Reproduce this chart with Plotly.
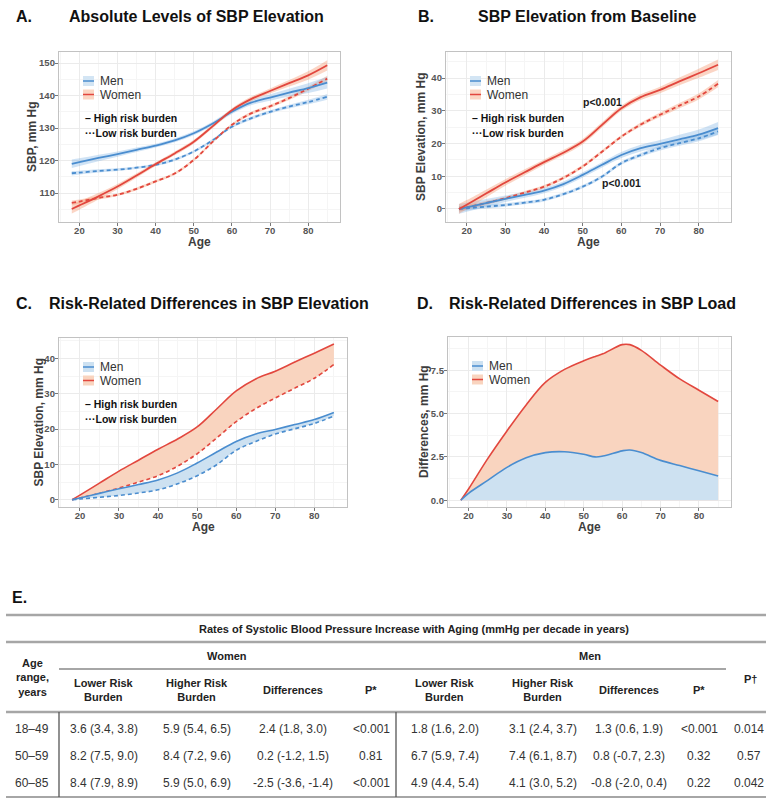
import plotly.graph_objects as go

W, H = 766, 798

# ---------------- data ----------------
ages = [18, 20, 25, 30, 35, 40, 45, 50, 55, 60, 65, 70, 75, 80, 85]

# Panel A: absolute SBP (mm Hg)
men_high_abs = [119.0, 119.5, 120.8, 122.0, 123.3, 124.6, 126.2, 128.4, 131.4, 135.0, 137.8, 139.4, 140.9, 142.3, 144.0]
men_low_abs = [116.1, 116.3, 116.8, 117.2, 117.8, 118.7, 120.3, 122.8, 126.3, 130.4, 133.0, 135.0, 136.6, 138.0, 139.6]
women_high_abs = [105.1, 106.2, 109.0, 112.0, 115.4, 118.9, 122.2, 125.8, 130.6, 135.5, 138.9, 141.4, 143.8, 146.2, 149.3]
women_low_abs = [107.0, 107.4, 108.5, 109.5, 111.3, 113.6, 116.0, 120.2, 125.8, 131.0, 134.5, 136.7, 139.2, 142.1, 145.2]
men_high_abs_ci = [1.3, 1.2, 1.0, 0.8, 0.7, 0.6, 0.6, 0.6, 0.6, 0.7, 0.8, 1.0, 1.2, 1.5, 1.8]
men_low_abs_ci = [0.7, 0.6, 0.5, 0.4, 0.4, 0.4, 0.4, 0.4, 0.4, 0.4, 0.5, 0.5, 0.6, 0.7, 0.9]
women_high_abs_ci = [1.4, 1.3, 1.0, 0.8, 0.7, 0.6, 0.6, 0.6, 0.6, 0.6, 0.7, 0.8, 1.0, 1.3, 1.6]
women_low_abs_ci = [0.7, 0.6, 0.5, 0.4, 0.4, 0.4, 0.4, 0.4, 0.4, 0.4, 0.5, 0.5, 0.6, 0.7, 0.9]

# Panels B & C: SBP elevation from baseline (mm Hg)
men_high_el = [0.0, 0.5, 1.8, 3.1, 4.3, 5.6, 7.6, 10.4, 13.5, 16.5, 18.6, 19.9, 21.3, 22.7, 24.7]
men_low_el = [0.0, 0.2, 0.7, 1.2, 1.9, 2.8, 4.5, 6.8, 9.9, 14.0, 16.5, 18.6, 20.1, 21.6, 23.7]
women_high_el = [0.0, 1.3, 4.7, 8.1, 11.2, 14.3, 17.2, 20.6, 25.7, 30.8, 34.2, 36.4, 39.0, 41.5, 44.1]
women_low_el = [0.0, 0.5, 1.8, 3.3, 5.0, 6.8, 9.5, 13.0, 17.5, 22.1, 25.8, 28.8, 31.6, 34.4, 38.3]
men_high_el_ci = [1.5, 1.4, 1.2, 1.0, 0.9, 0.8, 0.8, 0.8, 0.8, 0.9, 1.0, 1.2, 1.4, 1.6, 1.9]
men_low_el_ci = [0.8, 0.7, 0.6, 0.5, 0.5, 0.5, 0.5, 0.5, 0.5, 0.5, 0.6, 0.7, 0.8, 0.9, 1.1]
women_high_el_ci = [1.5, 1.4, 1.2, 1.0, 0.9, 0.8, 0.8, 0.8, 0.8, 0.8, 0.9, 1.0, 1.2, 1.4, 1.6]
women_low_el_ci = [0.8, 0.7, 0.6, 0.5, 0.5, 0.5, 0.5, 0.5, 0.5, 0.5, 0.6, 0.7, 0.8, 0.9, 1.1]
p_labels_b = ["p<0.001", "p<0.001"]
p_ages_b = [55, 60]
p_vals_b = [32.8, 7.9]

# Panel D: risk-related differences in SBP load
ages_d = [18, 20, 25, 30, 35, 40, 45, 50, 53, 55, 60, 62, 65, 70, 75, 80, 85]
men_load = [0.0, 0.4, 1.15, 1.9, 2.45, 2.75, 2.8, 2.65, 2.5, 2.55, 2.85, 2.9, 2.75, 2.3, 2.0, 1.7, 1.4]
women_load = [0.0, 0.65, 2.4, 4.0, 5.5, 6.8, 7.55, 8.05, 8.3, 8.45, 8.98, 8.98, 8.65, 7.8, 7.0, 6.35, 5.7]

# Panel E: table
table_title = "Rates of Systolic Blood Pressure Increase with Aging (mmHg per decade in years)"
groups = ["Women", "Men"]
col_headers = ["Lower Risk<br>Burden", "Higher Risk<br>Burden", "Differences", "P*",
               "Lower Risk<br>Burden", "Higher Risk<br>Burden", "Differences", "P*"]
age_ranges = ["18–49", "50–59", "60–85"]
women_lower = ["3.6 (3.4, 3.8)", "8.2 (7.5, 9.0)", "8.4 (7.9, 8.9)"]
women_higher = ["5.9 (5.4, 6.5)", "8.4 (7.2, 9.6)", "5.9 (5.0, 6.9)"]
women_diff = ["2.4 (1.8, 3.0)", "0.2 (-1.2, 1.5)", "-2.5 (-3.6, -1.4)"]
women_p = ["<0.001", "0.81", "<0.001"]
men_lower = ["1.8 (1.6, 2.0)", "6.7 (5.9, 7.4)", "4.9 (4.4, 5.4)"]
men_higher = ["3.1 (2.4, 3.7)", "7.4 (6.1, 8.7)", "4.1 (3.0, 5.2)"]
men_diff = ["1.3 (0.6, 1.9)", "0.8 (-0.7, 2.3)", "-0.8 (-2.0, 0.4)"]
men_p = ["<0.001", "0.32", "0.22"]
p_dagger = ["0.014", "0.57", "0.042"]

# ---------------- styling ----------------
BLUE = "#4a8dcf"
RED = "#e2473e"
BLUE_BAND = "rgba(120,175,225,0.35)"
RED_BAND = "rgba(245,150,110,0.40)"
BLUE_FILL = "#cde1f1"
RED_FILL = "#f9d4bf"
FONT = "Liberation Sans, Arial, sans-serif"
DASH = "4px,3px"


def px(x):
    return x / W


def py(y):
    return 1 - y / H


fig = go.Figure()

panels = {
    "A": dict(box=(59, 52, 340, 222), yr=[101.1, 153.4], dt=10, mdt=5, fmt=None),
    "B": dict(box=(446, 52, 731, 222), yr=[-4.0, 48.0], dt=10, mdt=5, fmt=None),
    "C": dict(box=(59, 338, 347, 507), yr=[-2.06, 45.8], dt=10, mdt=5, fmt=None),
    "D": dict(box=(448, 337, 731, 507), yr=[-0.39, 9.42], dt=2.5, mdt=1.25, fmt=".1f"),
}

TICKFONT = dict(family=FONT, size=9.5, color="#555555", weight="bold")
layout_axes = {}
for i, (k, p) in enumerate(panels.items()):
    x0, y0, x1, y1 = p["box"]
    sfx = "" if i == 0 else str(i + 1)
    common = dict(showgrid=True, gridcolor="#ebebeb", gridwidth=1, zeroline=False,
                  showline=True, mirror=True, linecolor="#c2c2c2", linewidth=1.3,
                  ticks="outside", ticklen=3, tickcolor="#777777", tickfont=TICKFONT)
    layout_axes["xaxis" + sfx] = dict(
        domain=[px(x0), px(x1)], range=[14.65, 88.35], anchor="y" + sfx,
        tickmode="linear", tick0=0, dtick=10, ticklabelstandoff=-4,
        minor=dict(dtick=5, tick0=0, showgrid=True, gridcolor="#f5f5f5", gridwidth=1),
        **common,
    )
    layout_axes["yaxis" + sfx] = dict(
        domain=[py(y1), py(y0)], range=p["yr"], anchor="x" + sfx,
        tickmode="linear", tick0=0, dtick=p["dt"], ticklabelstandoff=-2,
        tickformat=p["fmt"] if p["fmt"] else None,
        minor=dict(dtick=p["mdt"], tick0=0, showgrid=True, gridcolor="#f5f5f5", gridwidth=1),
        **common,
    )


def band(xs, mid, hw, color, xa, ya):
    lo = [m - h for m, h in zip(mid, hw)]
    hi = [m + h for m, h in zip(mid, hw)]
    fig.add_trace(go.Scatter(x=xs, y=lo, mode="lines", line=dict(width=0, shape="spline"),
                             xaxis=xa, yaxis=ya, showlegend=False, hoverinfo="skip"))
    fig.add_trace(go.Scatter(x=xs, y=hi, mode="lines", line=dict(width=0, shape="spline"),
                             fill="tonexty", fillcolor=color,
                             xaxis=xa, yaxis=ya, showlegend=False, hoverinfo="skip"))


def line(xs, ys, color, dash, xa, ya, width=1.8):
    fig.add_trace(go.Scatter(x=xs, y=ys, mode="lines",
                             line=dict(color=color, width=width, dash=dash, shape="spline"),
                             xaxis=xa, yaxis=ya, showlegend=False))


# Panel A
band(ages, men_low_abs, men_low_abs_ci, BLUE_BAND, "x", "y")
band(ages, women_low_abs, women_low_abs_ci, RED_BAND, "x", "y")
band(ages, men_high_abs, men_high_abs_ci, BLUE_BAND, "x", "y")
band(ages, women_high_abs, women_high_abs_ci, RED_BAND, "x", "y")
line(ages, men_low_abs, BLUE, DASH, "x", "y")
line(ages, women_low_abs, RED, DASH, "x", "y")
line(ages, men_high_abs, BLUE, "solid", "x", "y")
line(ages, women_high_abs, RED, "solid", "x", "y")

# Panel B
band(ages, men_low_el, men_low_el_ci, BLUE_BAND, "x2", "y2")
band(ages, women_low_el, women_low_el_ci, RED_BAND, "x2", "y2")
band(ages, men_high_el, men_high_el_ci, BLUE_BAND, "x2", "y2")
band(ages, women_high_el, women_high_el_ci, RED_BAND, "x2", "y2")
line(ages, men_low_el, BLUE, DASH, "x2", "y2")
line(ages, women_low_el, RED, DASH, "x2", "y2")
line(ages, men_high_el, BLUE, "solid", "x2", "y2")
line(ages, women_high_el, RED, "solid", "x2", "y2")

# Panel C (area between high and low burden curves)
for low, high, fillc, col in [(women_low_el, women_high_el, RED_FILL, RED),
                              (men_low_el, men_high_el, BLUE_FILL, BLUE)]:
    fig.add_trace(go.Scatter(x=ages, y=low, mode="lines",
                             line=dict(color=col, width=0, shape="spline"),
                             xaxis="x3", yaxis="y3", showlegend=False, hoverinfo="skip"))
    fig.add_trace(go.Scatter(x=ages, y=high, mode="lines",
                             line=dict(color=col, width=1.6, shape="spline"),
                             fill="tonexty", fillcolor=fillc,
                             xaxis="x3", yaxis="y3", showlegend=False))
    fig.add_trace(go.Scatter(x=ages, y=low, mode="lines",
                             line=dict(color=col, width=1.6, dash=DASH, shape="spline"),
                             xaxis="x3", yaxis="y3", showlegend=False))

# Panel D
fig.add_trace(go.Scatter(x=ages_d, y=women_load, mode="lines",
                         line=dict(color=RED, width=1.6, shape="spline"),
                         fill="tozeroy", fillcolor=RED_FILL,
                         xaxis="x4", yaxis="y4", showlegend=False))
fig.add_trace(go.Scatter(x=ages_d, y=men_load, mode="lines",
                         line=dict(color=BLUE, width=1.6, shape="spline"),
                         fill="tozeroy", fillcolor=BLUE_FILL,
                         xaxis="x4", yaxis="y4", showlegend=False))

annotations = []
shapes = []


def text(x, y, s, size=11, color="#222222", bold=False, xanchor="center", yanchor="middle",
         angle=0, family=FONT):
    annotations.append(dict(x=px(x), y=py(y), xref="paper", yref="paper", text=s,
                            showarrow=False, xanchor=xanchor, yanchor=yanchor, textangle=angle,
                            font=dict(family=family, size=size, color=color,
                                      weight="bold" if bold else "normal")))


# p-value labels in panel B
for a, v, s in zip(p_ages_b, p_vals_b, p_labels_b):
    annotations.append(dict(x=a, y=v, xref="x2", yref="y2", text=s, showarrow=False,
                            font=dict(family=FONT, size=10.5, color="#1a1a1a", weight="bold")))

# Titles
titles = [("A.", 14, 16, "Absolute Levels of SBP Elevation", 196),
          ("B.", 416, 16, "SBP Elevation from Baseline", 587),
          ("C.", 14, 303, "Risk-Related Differences in SBP Elevation", 209),
          ("D.", 415, 303, "Risk-Related Differences in SBP Load", 592)]
for lab, lx, ly, t, tx in titles:
    text(lx, ly, lab, size=16, color="#111111", bold=True, xanchor="left")
    text(tx, ly, t, size=16, color="#111111", bold=True)

# Axis titles
ytitles = ["SBP, mm Hg", "SBP Elevation, mm Hg", "SBP Elevation, mm Hg", "Differences, mm Hg"]
ytx = [32, 421, 38, 424]
for (k, p), yt, yx in zip(panels.items(), ytitles, ytx):
    x0, y0, x1, y1 = p["box"]
    text((x0 + x1) / 2, y1 + 20, "Age", size=12, color="#3d3d3d", bold=True)
    text(yx, (y0 + y1) / 2, yt, size=12, color="#3d3d3d", bold=True, angle=-90)

# Legends inside panels
leg_pos = [(83, 81, True, "band"), (470, 81, True, "band"), (83, 367, True, "fill"), (472, 366, False, "fill")]
for lx, ly, risk, kind in leg_pos:
    for j, (name, lc, fc) in enumerate([("Men", BLUE, BLUE_FILL if kind == "fill" else "#d3e5f4"),
                                          ("Women", RED, RED_FILL if kind == "fill" else "#fbd6c3")]):
        cy = ly + j * 13.5
        shapes.append(dict(type="rect", xref="paper", yref="paper",
                           x0=px(lx), x1=px(lx + 11), y0=py(cy + 5), y1=py(cy - 5),
                           fillcolor=fc, line=dict(width=0), layer="above"))
        shapes.append(dict(type="line", xref="paper", yref="paper",
                           x0=px(lx), x1=px(lx + 11), y0=py(cy), y1=py(cy),
                           line=dict(color=lc, width=1.5), layer="above"))
        text(lx + 15, cy, name, size=12, color="#333333", xanchor="left")
    if risk:
        text(lx, ly + 37, "– High risk burden", size=10.5, color="#111111", bold=True, xanchor="left")
        text(lx, ly + 52, "···Low risk burden", size=10.5, color="#111111", bold=True, xanchor="left")

# ---------------- Table (panel E) ----------------
text(10, 597, "E.", size=16, color="#111111", bold=True, xanchor="left")
LC = "#a6a6a6"


def hline(x0, x1, y, w=2):
    shapes.append(dict(type="line", xref="paper", yref="paper", x0=px(x0), x1=px(x1),
                       y0=py(y), y1=py(y), line=dict(color=LC, width=w)))


def vline(x, y0, y1, w=1.3):
    shapes.append(dict(type="line", xref="paper", yref="paper", x0=px(x), x1=px(x),
                       y0=py(y0), y1=py(y1), line=dict(color="#555555", width=w)))


hline(6, 766, 615, 2.5)
hline(6, 766, 642, 2.5)
hline(59, 726, 669, 2)
hline(6, 766, 712, 2.5)
hline(6, 766, 797, 2)
vline(59, 712, 797)
vline(396, 712, 797)

HF = "Liberation Sans, Arial, sans-serif"
text(414, 629, table_title, size=11, color="#222222", bold=True, family=HF)
text(227, 656, groups[0], size=11, color="#222222", bold=True, family=HF)
text(590, 656, groups[1], size=11, color="#222222", bold=True, family=HF)
text(32, 677, "Age<br>range,<br>years", size=11, color="#222222", bold=True, family=HF)
text(750, 679, "P†", size=11, color="#222222", bold=True, family=HF)

col_x = [104, 197, 293, 371, 445, 543, 629, 699]
for cx, h in zip(col_x, col_headers):
    text(cx, 690, h, size=11, color="#222222", bold=True, family=HF)

BF = "Liberation Sans Narrow, Arial Narrow, Liberation Sans, Arial, sans-serif"
columns = [age_ranges, women_lower, women_higher, women_diff, women_p,
           men_lower, men_higher, men_diff, men_p, p_dagger]
all_x = [32] + col_x + [749]
row_y = [729, 756, 783]
for cx, col in zip(all_x, columns):
    for ry, v in zip(row_y, col):
        text(cx, ry, v, size=12, color="#333333", family=BF)

fig.update_layout(
    width=W, height=H, margin=dict(l=0, r=0, t=0, b=0),
    paper_bgcolor="white", plot_bgcolor="white",
    showlegend=False, annotations=annotations, shapes=shapes,
    **layout_axes,
)

fig.write_html("out.html", config={"displayModeBar": False},
               post_script="document.body.style.margin='0px';document.body.style.overflow='hidden';")
